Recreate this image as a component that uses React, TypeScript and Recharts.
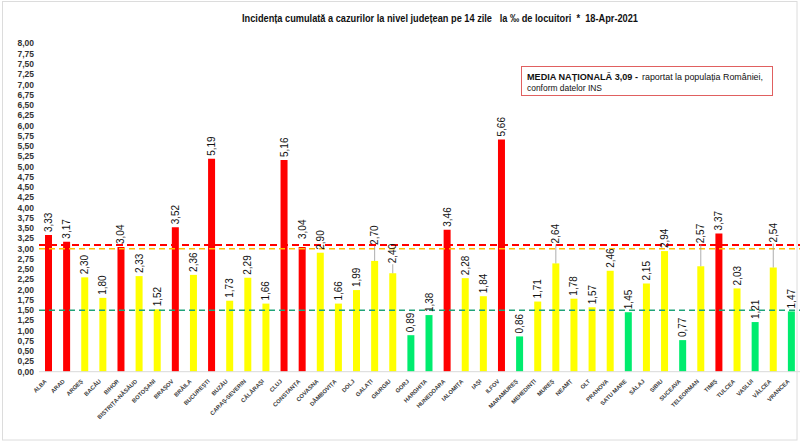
import React from 'react';
import { BarChart, Bar, XAxis, YAxis, ReferenceLine, Cell } from 'recharts';

const counties = ['ALBA','ARAD','ARGEȘ','BACĂU','BIHOR','BISTRIȚA-NĂSĂUD','BOTOȘANI','BRAȘOV','BRĂILA','BUCUREȘTI','BUZĂU','CARAȘ-SEVERIN','CĂLĂRAȘI','CLUJ','CONSTANȚA','COVASNA','DÂMBOVIȚA','DOLJ','GALAȚI','GIURGIU','GORJ','HARGHITA','HUNEDOARA','IALOMIȚA','IAȘI','ILFOV','MARAMUREȘ','MEHEDINȚI','MUREȘ','NEAMȚ','OLT','PRAHOVA','SATU MARE','SĂLAJ','SIBIU','SUCEAVA','TELEORMAN','TIMIȘ','TULCEA','VASLUI','VÂLCEA','VRANCEA'];

const incidence = [3.33,3.17,2.30,1.80,3.04,2.33,1.52,3.52,2.36,5.19,1.73,2.29,1.66,5.16,3.04,2.90,1.66,1.99,2.70,2.40,0.89,1.38,3.46,2.28,1.84,5.66,0.86,1.71,2.64,1.78,1.57,2.46,1.45,2.15,2.94,0.77,2.57,3.37,2.03,1.21,2.54,1.47];

const yTicks = [0,0.25,0.5,0.75,1,1.25,1.5,1.75,2,2.25,2.5,2.75,3,3.25,3.5,3.75,4,4.25,4.5,4.75,5,5.25,5.5,5.75,6,6.25,6.5,6.75,7,7.25,7.5,7.75,8];

const NATIONAL_AVG = 3.09;
const RED_THRESHOLD = 3.0;
const GREEN_THRESHOLD = 1.5;

const title = 'Incidența cumulată a cazurilor la nivel județean pe 14 zile   la ‰ de locuitori  *  18-Apr-2021';

const data = counties.map((name, i) => ({ name, value: incidence[i] }));

const RED = '#FF0000';
const YELLOW = '#FFFF00';
const GREEN = '#00EC6E';

const colorFor = (v: number) => (v > RED_THRESHOLD ? RED : v <= GREEN_THRESHOLD ? GREEN : YELLOW);

// label lifts (px) for labels that Excel moved up with leader lines
const labelLift: Record<string, number> = {
  'CONSTANȚA': 5,
  'GALAȚI': 13,
  'GIURGIU': 7,
  'MUREȘ': 17,
  'TELEORMAN': 20,
  'VÂLCEA': 22,
};

const fmt = (v: number) => v.toFixed(2).replace('.', ',');

const FONT = '"Liberation Sans", Arial, sans-serif';

const XTick = (props: any) => {
  const { x, y, payload } = props;
  return (
    <text
      transform={`translate(${x - 1},${y + 2}) rotate(-45)`}
      textAnchor="end"
      fontSize={5.8}
      fontWeight="bold"
      fill="#404040"
      fontFamily={FONT}
    >
      {payload.value}
    </text>
  );
};

const YTick = (props: any) => {
  const { x, y, payload } = props;
  return (
    <text x={x} y={y} dy="0.35em" textAnchor="end" fontSize={8.5} fontWeight="bold" fill="#333" fontFamily={FONT}>
      {fmt(payload.value)}
    </text>
  );
};

const ValueLabel = (props: any) => {
  const { x, y, width, value, index } = props;
  const cx = x + width / 2;
  const lift = labelLift[counties[index]] || 0;
  const bottom = y - 3 - lift;
  return (
    <g>
      {lift > 6 && <line x1={cx} y1={y} x2={cx} y2={bottom + 1} stroke="#999" strokeWidth={0.8} />}
      <text
        transform={`translate(${cx},${bottom}) rotate(-90)`}
        textAnchor="start"
        dy="0.35em"
        fontSize={10}
        fill="#111"
        fontFamily={FONT}
      >
        {fmt(value)}
      </text>
    </g>
  );
};

export default function App() {
  return (
    <div style={{ position: 'absolute', left: 0, top: 0, width: 800, height: 442, background: '#fff', overflow: 'hidden' }}>
      <BarChart width={800} height={442} data={data} margin={{ top: 43.5, right: 0, bottom: 0, left: 0 }}>
        <XAxis
          dataKey="name"
          interval={0}
          height={70.3}
          tickLine={false}
          axisLine={{ stroke: '#d9d9d9' }}
          tick={<XTick />}
        />
        <YAxis
          domain={[0, 8]}
          ticks={yTicks}
          interval={0}
          width={39}
          axisLine={false}
          tickLine={false}
          tickSize={3}
          tickMargin={2}
          tick={<YTick />}
        />
        <Bar dataKey="value" barSize={7} isAnimationActive={false} label={<ValueLabel />}>
          {data.map((d) => (
            <Cell key={d.name} fill={colorFor(d.value)} />
          ))}
        </Bar>
        <ReferenceLine y={GREEN_THRESHOLD} stroke="#1FA47A" strokeWidth={1.5} strokeDasharray="6 4" />
        <ReferenceLine y={RED_THRESHOLD} stroke="#FFC000" strokeWidth={1.5} strokeDasharray="6 4" />
        <ReferenceLine y={NATIONAL_AVG} stroke="#FF0000" strokeWidth={2} strokeDasharray="7 4" />
      </BarChart>
      <svg width={800} height={442} style={{ position: 'absolute', left: 0, top: 0, pointerEvents: 'none' }}>
        <rect x={2.5} y={1.5} width={794.5} height={438.5} fill="none" stroke="#dcdcdc" strokeWidth={1} />
        <text x={242} y={21.5} fontSize={10.5} fontWeight="bold" fill="#111" fontFamily={FONT} textLength={396} lengthAdjust="spacingAndGlyphs" style={{ whiteSpace: 'pre' }}>
          {title}
        </text>
        <rect x={521.5} y={66.5} width={251} height={29} fill="#fff" stroke="#e06060" strokeWidth={1} />
        <text x={527} y={79.5} fontSize={9.5} fontWeight="bold" fill="#111" fontFamily={FONT} textLength={111} lengthAdjust="spacingAndGlyphs">
          MEDIA NAȚIONALĂ 3,09 -
        </text>
        <text x={642} y={79.5} fontSize={9.5} fill="#111" fontFamily={FONT} textLength={121} lengthAdjust="spacingAndGlyphs">
          raportat la populația României,
        </text>
        <text x={527} y={90.5} fontSize={9.5} fill="#111" fontFamily={FONT} textLength={75} lengthAdjust="spacingAndGlyphs">
          conform datelor INS
        </text>
      </svg>
    </div>
  );
}
